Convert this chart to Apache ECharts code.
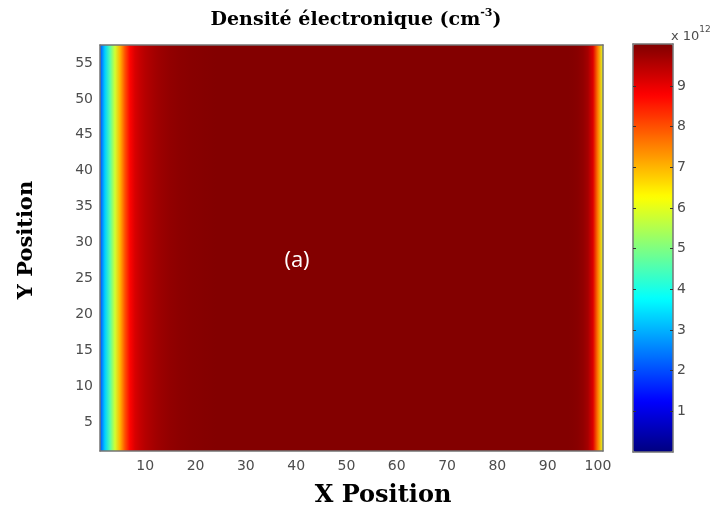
<!DOCTYPE html>
<html>
<head>
<meta charset="utf-8">
<script src="https://cdn.jsdelivr.net/npm/echarts@6/dist/echarts.min.js"></script>
<style>
  html, body { margin: 0; padding: 0; background: #ffffff; }
  #chart { width: 725px; height: 515px; }
</style>
</head>
<body>
<div id="chart"></div>
<script>
// Electron density along X (units of 1e12 cm^-3), one value per grid node x = 1..101.
// The profile is uniform along Y.
const densityProfile = [
  2.0, 3.3, 4.6, 5.8, 7.0, 8.0, 8.75, 9.15, 9.35, 9.5,
  9.6, 9.68, 9.75, 9.8, 9.85, 9.88, 9.91, 9.93, 9.95, 9.96,
  9.97, 9.98, 9.99, 10.0, 10.0, 10.0, 10.0, 10.0, 10.0, 10.0,
  10.0, 10.0, 10.0, 10.0, 10.0, 10.0, 10.0, 10.0, 10.0, 10.0,
  10.0, 10.0, 10.0, 10.0, 10.0, 10.0, 10.0, 10.0, 10.0, 10.0,
  10.0, 10.0, 10.0, 10.0, 10.0, 10.0, 10.0, 10.0, 10.0, 10.0,
  10.0, 10.0, 10.0, 10.0, 10.0, 10.0, 10.0, 10.0, 10.0, 10.0,
  10.0, 10.0, 10.0, 10.0, 10.0, 10.0, 10.0, 10.0, 10.0, 10.0,
  10.0, 10.0, 10.0, 10.0, 10.0, 10.0, 10.0, 10.0, 10.0, 10.0,
  10.0, 10.0, 10.0, 10.0, 9.98, 9.94, 9.85, 9.65, 9.1, 7.5,
  5.9
];
const xFirst = 1;           // first X grid node
const yRows = 57;           // number of Y rows
const xTicks = [10, 20, 30, 40, 50, 60, 70, 80, 90, 100];
const yTicks = [5, 10, 15, 20, 25, 30, 35, 40, 45, 50, 55];
const colorbarTicks = [1, 2, 3, 4, 5, 6, 7, 8, 9];
const colorMin = 0;
const colorMax = 10.03;
// "jet" colormap, stops evenly spaced at 1/8
const jetColors = ['#000080', '#0000ff', '#0080ff', '#00ffff', '#80ff80',
                   '#ffff00', '#ff8000', '#ff0000', '#800000'];

const jetRgb = jetColors.map(h => [parseInt(h.slice(1, 3), 16), parseInt(h.slice(3, 5), 16), parseInt(h.slice(5, 7), 16)]);
function jet(v) {
  let t = (v - colorMin) / (colorMax - colorMin);
  t = Math.max(0, Math.min(1, t));
  const n = jetRgb.length - 1;
  const k = Math.min(n - 1, Math.floor(t * n));
  const f = t * n - k;
  const a = jetRgb[k], b = jetRgb[k + 1];
  const c = [0, 1, 2].map(i => Math.round(a[i] + (b[i] - a[i]) * f));
  return 'rgb(' + c.join(',') + ')';
}

// One cell per (column, row): [x, y, value at left node, value at right node, next x]
const cells = [];
for (let i = 0; i < densityProfile.length - 1; i++) {
  for (let j = 1; j <= yRows; j++) {
    cells.push([xFirst + i, j, densityProfile[i], densityProfile[i + 1], xFirst + i + 1]);
  }
}

const frame = { show: true, onZero: false, lineStyle: { color: '#747474', width: 1.5 } };
const numFont = { color: '#4d4d4d', fontSize: 14, fontFamily: 'DejaVu Sans' };

const chart = echarts.init(document.getElementById('chart'), null, { renderer: 'canvas' });
chart.setOption({
  animation: false,
  backgroundColor: '#ffffff',
  grid: [
    { left: 100, top: 45, width: 503, height: 406 },
    { left: 633, top: 44, width: 40, height: 408 }
  ],
  xAxis: [
    { gridIndex: 0, type: 'value', min: 1, max: 101, position: 'bottom', z: 5,
      axisLine: frame, axisTick: { show: false }, splitLine: { show: false },
      axisLabel: Object.assign({ customValues: xTicks, margin: 8 }, numFont) },
    { gridIndex: 0, type: 'value', min: 1, max: 101, position: 'top', z: 5,
      axisLine: frame, axisTick: { show: false }, splitLine: { show: false }, axisLabel: { show: false } },
    { gridIndex: 1, type: 'value', min: 0, max: 1, position: 'bottom', z: 5,
      axisLine: frame, axisTick: { show: false }, splitLine: { show: false }, axisLabel: { show: false } },
    { gridIndex: 1, type: 'value', min: 0, max: 1, position: 'top', z: 5,
      axisLine: frame, axisTick: { show: false }, splitLine: { show: false }, axisLabel: { show: false } }
  ],
  yAxis: [
    { gridIndex: 0, type: 'value', min: 1, max: 57.5, position: 'left', z: 5,
      axisLine: frame, axisTick: { show: false }, splitLine: { show: false },
      axisLabel: Object.assign({ customValues: yTicks, margin: 7 }, numFont) },
    { gridIndex: 0, type: 'value', min: 1, max: 57.5, position: 'right', z: 5,
      axisLine: frame, axisTick: { show: false }, splitLine: { show: false }, axisLabel: { show: false } },
    { gridIndex: 1, type: 'value', min: colorMin, max: colorMax, position: 'right', z: 5,
      axisLine: frame, splitLine: { show: false },
      axisTick: { show: true, inside: true, length: 3, customValues: colorbarTicks, lineStyle: { color: '#333', width: 1 } },
      axisLabel: Object.assign({ customValues: colorbarTicks, margin: 4 }, numFont) },
    { gridIndex: 1, type: 'value', min: colorMin, max: colorMax, position: 'left', z: 5,
      axisLine: frame, splitLine: { show: false },
      axisTick: { show: true, inside: true, length: 3, customValues: colorbarTicks, lineStyle: { color: '#333', width: 1 } },
      axisLabel: { show: false } }
  ],
  visualMap: {
    type: 'continuous',
    min: colorMin, max: colorMax,
    dimension: 2, seriesIndex: 0,
    left: 633, top: 44, itemWidth: 40, itemHeight: 408,
    padding: 0, calculable: false, hoverLink: false,
    inRange: { color: jetColors },
    textStyle: { color: 'transparent' }
  },
  series: [{
    type: 'custom',
    xAxisIndex: 0, yAxisIndex: 0,
    data: cells,
    encode: { x: 0, y: 1 },
    renderItem: function (params, api) {
      const x0 = api.value(0), y0 = api.value(1), x1 = api.value(4);
      const p0 = api.coord([x0, y0]);
      const p1 = api.coord([x1, y0 + 1]);
      // snap to whole pixels so neighbouring cells meet without seams
      const left = Math.round(p0[0]), right = Math.round(p1[0]);
      const bottom = Math.round(p0[1]), top = Math.round(p1[1]);
      const rect = echarts.graphic.clipRectByRect(
        { x: left, y: top, width: right - left, height: bottom - top },
        params.coordSys
      );
      if (!rect) return null;
      return {
        type: 'rect',
        shape: rect,
        style: {
          fill: new echarts.graphic.LinearGradient(left, 0, right, 0, [
            { offset: 0, color: jet(api.value(2)) },
            { offset: 1, color: jet(api.value(3)) }
          ], true)
        }
      };
    }
  }],
  graphic: [
    { type: 'text', x: 356, y: 19, z: 10,
      style: { text: '{a|Densité électronique (cm}{s|-3}{a|)}', align: 'center', verticalAlign: 'middle',
        rich: {
          a: { fontFamily: 'DejaVu Serif', fontWeight: 'bold', fontSize: 19, fill: '#000', lineHeight: 22, verticalAlign: 'bottom' },
          s: { fontFamily: 'DejaVu Serif', fontWeight: 'bold', fontSize: 11, fill: '#000', lineHeight: 12, verticalAlign: 'top' }
        } } },
    { type: 'text', x: 383, y: 496, z: 10,
      style: { text: 'X Position', align: 'center', verticalAlign: 'middle',
        fontFamily: 'DejaVu Serif', fontWeight: 'bold', fontSize: 24, fill: '#000' } },
    { type: 'text', x: 27, y: 240, rotation: Math.PI / 2, z: 10,
      style: { text: 'Y Position', align: 'center', verticalAlign: 'middle',
        fontFamily: 'DejaVu Serif', fontWeight: 'bold', fontSize: 21, fill: '#000' } },
    { type: 'text', x: 297, y: 261, z: 10,
      style: { text: '(a)', align: 'center', verticalAlign: 'middle',
        fontFamily: 'Open Sans', fontSize: 22, fill: '#ffffff' } },
    { type: 'text', x: 671, y: 34, z: 10,
      style: { text: '{a|x 10}{s|12}', align: 'left', verticalAlign: 'middle',
        rich: {
          a: { fontFamily: 'DejaVu Sans', fontSize: 13, fill: '#4d4d4d', lineHeight: 18, verticalAlign: 'bottom' },
          s: { fontFamily: 'DejaVu Sans', fontSize: 9, fill: '#4d4d4d', lineHeight: 10, verticalAlign: 'top' }
        } } }
  ]
});
</script>
</body>
</html>
